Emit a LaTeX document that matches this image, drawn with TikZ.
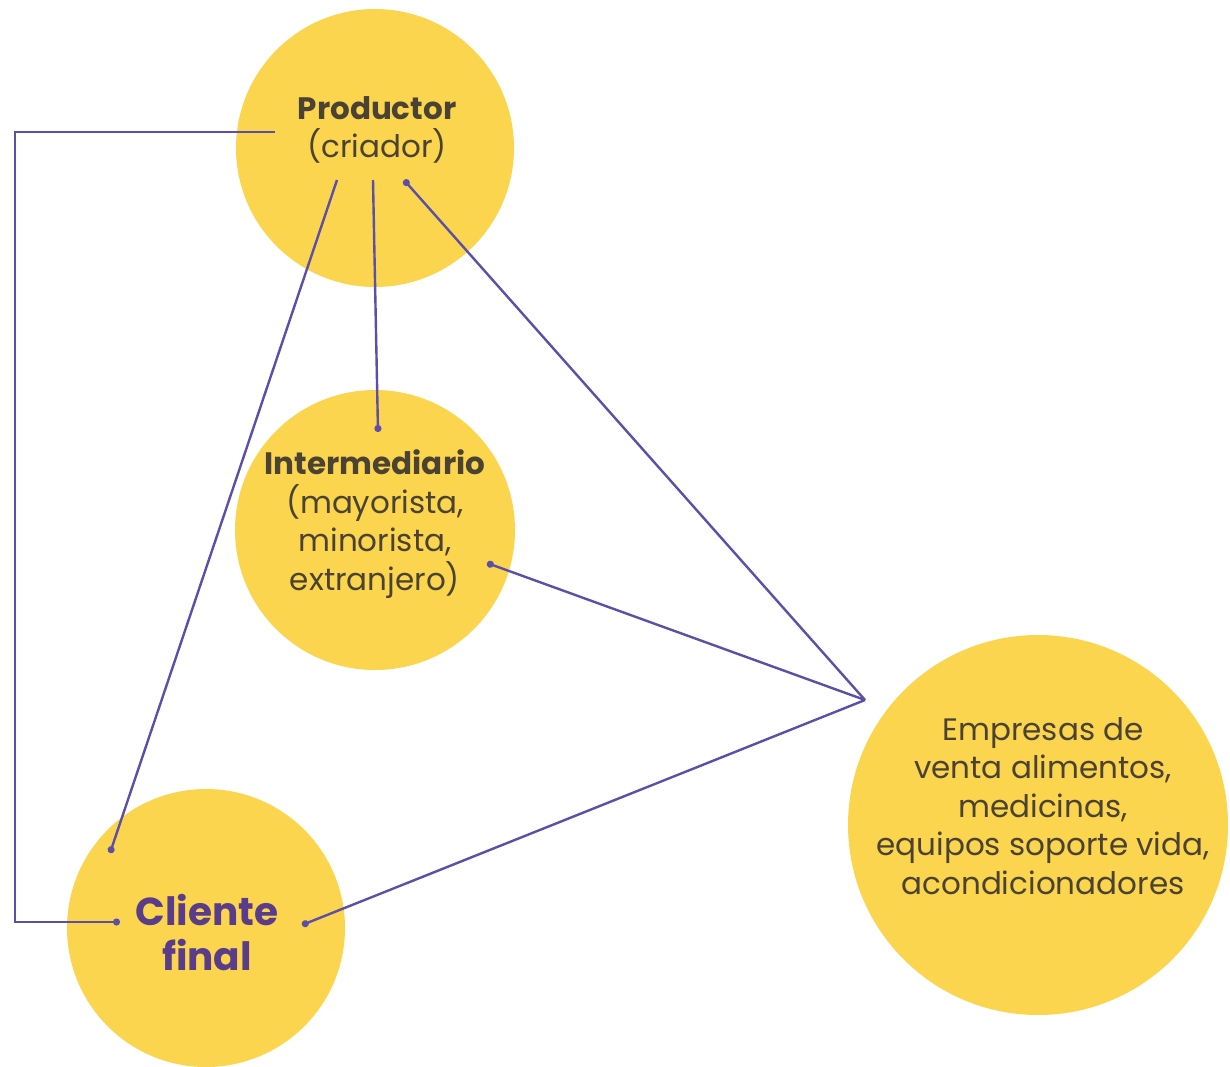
\documentclass[tikz,border=0pt]{standalone}
\usepackage{fontspec}
\setmainfont{Poppins}
\usetikzlibrary{arrows.meta}
\definecolor{circ}{HTML}{FCD54E}
\definecolor{lin}{HTML}{5B4FA8}
\definecolor{txt}{HTML}{4A4232}
\definecolor{cli}{HTML}{5A3D8A}
\tikzset{
  bubble/.style={circle, fill=circ, draw=none, inner sep=0pt},
  conn/.style={draw=lin, line width=2.4pt, -{Circle[length=7pt]}},
  lbl/.style={text=txt, align=center, font=\fontsize{31}{38.5}\selectfont, inner sep=0pt},
}
\begin{document}
\begin{tikzpicture}[x=1pt,y=-1pt]
\useasboundingbox (0,0) rectangle (1230,1066);
\node[bubble, minimum size=278pt] (prod) at (375,148) {};
\node[bubble, minimum size=280pt] (inter) at (375,530) {};
\node[bubble, minimum size=278pt] (cli) at (206,928) {};
\node[bubble, minimum size=380pt] (emp) at (1038,825) {};

\node[lbl] (prodt) at (377,130) {\textbf{Productor}\\(criador)};
\node[lbl] (intert) at (375,524) {\textbf{Intermediario}\\(mayorista,\\minorista,\\extranjero)};
\node[lbl] (empt) at (1043,806) {Empresas de\\venta alimentos,\\medicinas,\\equipos soporte vida,\\acondicionadores};
\node[lbl, text=cli, font=\bfseries\fontsize{39}{45}\selectfont] (clit) at (207,933) {Cliente\\final};

\coordinate (hub) at (865,700);
\coordinate (pL) at (275,132);
\coordinate (pA) at (337,180);
\coordinate (pB) at (373,180);
\coordinate (pC) at (404,180);
\coordinate (iT) at (378,432);
\coordinate (iR) at (487,563);
\coordinate (cT) at (110,853);
\coordinate (cL) at (120,922);
\coordinate (cR) at (302,925);

\draw[conn] (pL) -- (15,132) -- (15,922) -- (cL);
\draw[conn] (pA) -- (cT);
\draw[conn] (pB) -- (iT);
\draw[conn] (hub) -- (pC);
\draw[conn] (hub) -- (iR);
\draw[conn] (hub) -- (cR);
\end{tikzpicture}
\end{document}
